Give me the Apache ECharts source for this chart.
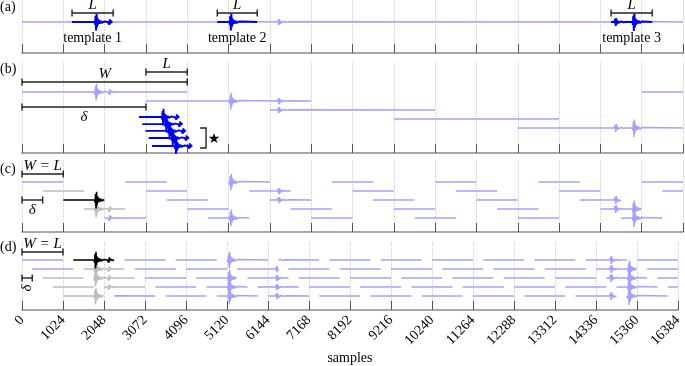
<!DOCTYPE html>
<html>
<head>
<meta charset="utf-8">
<script src="https://cdn.jsdelivr.net/npm/echarts@6/dist/echarts.min.js"></script>
<style>
  html, body { margin: 0; padding: 0; background: #fff; }
  #main { width: 685px; height: 366px; }
</style>
</head>
<body>
<div id="main"></div>
<script>
const SERIF = '"Liberation Serif", "DejaVu Serif", serif';
const RECORD_END = 16384;

// events in the continuous record (sample position, relative amplitude)
const eventSamples = [1800, 2130, 5140, 6330, 14680, 15130];
const eventAmps = [0.95, 0.3, 0.95, 0.35, 0.45, 1.0];
// shape of one event (one value every waveletStep samples)
const wavelet = [0, 0.3, -0.7, 1.0, -0.95, 0.6, -0.42, 0.32, -0.27, 0.23, -0.2, 0.18, -0.16, 0.15,
  -0.13, 0.12, -0.1, 0.09, -0.08, 0.07, -0.06, 0.05, -0.04, 0.03, 0];
const waveletStep = 12;

// (a) templates
const templateStarts = [1240, 4840, 14600];
const templateEnds = [2260, 5830, 15620];
const templateNames = ['template 1', 'template 2', 'template 3'];

// (b) long windows W, step delta, and the shifted copies of template 1
const bStarts = [0, 3072, 6144, 9216, 12288, 15360];
const bWidth = 4096;
const starStarts = [2900, 2980, 3060, 3140, 3220];

// (c) W = L, delta = L/2
const cStarts = [0, 512, 1024, 1536, 2048, 2560, 3072, 3584, 4096, 4608, 5120, 5632, 6144, 6656,
  7168, 7680, 8192, 8704, 9216, 9728, 10240, 10752, 11264, 11776, 12288, 12800, 13312, 13824,
  14336, 14848, 15360, 15872];
const cWidth = 1024;
const cGray = [1, 3];
const cBlack = [2];

// (d) W = L, delta = L/4
const dStarts = [0, 256, 512, 768, 1024, 1280, 1536, 1792, 2048, 2304, 2560, 2816, 3072, 3328,
  3584, 3840, 4096, 4352, 4608, 4864, 5120, 5376, 5632, 5888, 6144, 6400, 6656, 6912, 7168, 7424,
  7680, 7936, 8192, 8448, 8704, 8960, 9216, 9472, 9728, 9984, 10240, 10496, 10752, 11008, 11264,
  11520, 11776, 12032, 12288, 12544, 12800, 13056, 13312, 13568, 13824, 14080, 14336, 14592,
  14848, 15104, 15360, 15616, 15872, 16128];
const dWidth = 1024;
const dGray = [2, 3, 4, 6, 7, 8];
const dBlack = [5];

const LIGHT = '#a3a3ff';
const GRAY = '#bdbdbd';
const DARK = '#0000f0';

// one trace = window [start, end] of the record drawn on a row
function trace(start, end, row, shift) {
  end = Math.min(end, RECORD_END);
  const pts = [[start, row]];
  eventSamples.forEach((ev, i) => {
    const p = ev + shift;
    wavelet.forEach((v, j) => {
      const x = p + j * waveletStep;
      if (x > start && x < end) pts.push([x, row + v * eventAmps[i]]);
    });
  });
  pts.push([end, row]);
  pts.push([end, '-']);
  return pts;
}

function windows(starts, width, pick) {
  let out = [];
  starts.forEach((s, k) => {
    if (pick(k)) out = out.concat(trace(s, s + width, k % 5, 0));
  });
  return out;
}

function lineSeries(i, data, color, width, z) {
  return {
    type: 'line', xAxisIndex: i, yAxisIndex: i, data: data,
    showSymbol: false, connectNulls: false, silent: true, z: z,
    lineStyle: { color: color, width: width }
  };
}

// brackets: [from, to, row] with a label above or below
const bracketsA = [[1240, 2260, -1.0], [4840, 5830, -1.0], [14600, 15620, -1.0]];
const bracketsB = [[0, 4096, -1.11], [3072, 4096, -2.22], [0, 3072, 1.67]];
const bracketsC = [[0, 1024, -0.89], [0, 512, 2.0]];
const bracketsD = [[0, 1024, -0.89], [0, 256, 2.0]];

function bracketSeries(i, data, labels, sides, rot) {
  return {
    type: 'custom', xAxisIndex: i, yAxisIndex: i, data: data, silent: true, z: 5,
    encode: { x: [0, 1], y: 2 },
    renderItem: function (params, api) {
      const a = api.coord([api.value(0), api.value(2)]);
      const b = api.coord([api.value(1), api.value(2)]);
      const st = { stroke: '#222', lineWidth: 1.4 };
      const cap = 3.5;
      const side = sides[params.dataIndex];
      const r = rot ? rot[params.dataIndex] : 0;
      return {
        type: 'group',
        children: [
          { type: 'line', shape: { x1: a[0], y1: a[1], x2: b[0], y2: b[1] }, style: st },
          { type: 'line', shape: { x1: a[0], y1: a[1] - cap, x2: a[0], y2: a[1] + cap }, style: st },
          { type: 'line', shape: { x1: b[0], y1: b[1] - cap, x2: b[0], y2: b[1] + cap }, style: st },
          {
            type: 'text', x: (a[0] + b[0]) / 2, y: a[1] + (side === 'above' ? -8 : 10), rotation: r,
            style: {
              text: labels[params.dataIndex], fontFamily: SERIF, fontSize: 15, fontStyle: 'italic',
              fill: '#000', align: 'center', verticalAlign: 'middle',
              textAlign: 'center', textVerticalAlign: 'middle'
            }
          }
        ]
      };
    }
  };
}

function textSeries(i, data, labels, size) {
  return {
    type: 'custom', xAxisIndex: i, yAxisIndex: i, data: data, silent: true, z: 5,
    renderItem: function (params, api) {
      const p = api.coord([api.value(0), api.value(1)]);
      return {
        type: 'text', x: p[0], y: p[1],
        style: {
          text: labels[params.dataIndex], fontFamily: SERIF, fontSize: size, fill: '#000',
          align: 'center', verticalAlign: 'middle', textAlign: 'center', textVerticalAlign: 'middle'
        }
      };
    }
  };
}

// "]" next to the star copies: [fromSample, toSample, topRow, bottomRow]
const starBracket = [[4413, 4562, 4.0, 6.22]];

const grids = [
  { left: 22, right: 2, top: 0, height: 53 },
  { left: 22, right: 2, top: 62, height: 91 },
  { left: 22, right: 2, top: 160, height: 72 },
  { left: 22, right: 2, top: 242, height: 68 }
];
const yRanges = [[-2.444, 3.444], [-3.333, 6.778], [-2.444, 5.556], [-2.0, 5.556]];

function xAxisFor(i, labels) {
  return {
    type: 'value', gridIndex: i, min: 0, max: RECORD_END, interval: 1024,
    axisLine: { show: true, onZero: false, lineStyle: { color: '#8a8a8a', width: 1.5 } },
    axisTick: { show: true, inside: true, length: 9, lineStyle: { color: '#555', width: 1 } },
    splitLine: { show: true, lineStyle: { type: 'dotted', color: '#cfcfcf', width: 1 } },
    axisLabel: {
      show: labels, rotate: 45, fontFamily: SERIF, fontSize: 14, color: '#000', margin: 8,
      showMinLabel: true, showMaxLabel: true, hideOverlap: false,
      formatter: v => String(v)
    },
    name: labels ? 'samples' : '', nameLocation: 'middle', nameGap: 41,
    nameTextStyle: { fontFamily: SERIF, fontSize: 14, color: '#000' }
  };
}

const starRows = [2.78, 3.56, 4.33, 5.11, 6.0];
let starData = [];
starStarts.forEach((s, k) => {
  starData = starData.concat(trace(s, s + (templateEnds[0] - templateStarts[0]), starRows[k], s - templateStarts[0]));
});

let templData = [];
templateStarts.forEach((s, k) => { templData = templData.concat(trace(s, templateEnds[k], 0, 0)); });

const series = [
  // (a)
  lineSeries(0, trace(0, RECORD_END, 0, 0), LIGHT, 1.5, 2),
  lineSeries(0, templData, DARK, 2, 3),
  bracketSeries(0, bracketsA, ['L', 'L', 'L'], ['above', 'above', 'above']),
  textSeries(0, templateStarts.map((s, k) => [(s + templateEnds[k]) / 2, 1.78]), templateNames, 14),
  // (b)
  lineSeries(1, windows(bStarts, bWidth, () => true), LIGHT, 1.5, 2),
  lineSeries(1, starData, DARK, 1.8, 3),
  bracketSeries(1, bracketsB, ['W', 'L', 'δ'], ['above', 'above', 'below']),
  {
    type: 'custom', xAxisIndex: 1, yAxisIndex: 1, data: starBracket, silent: true, z: 5,
    renderItem: function (params, api) {
      const a = api.coord([api.value(0), api.value(2)]);
      const b = api.coord([api.value(1), api.value(3)]);
      return {
        type: 'group',
        children: [
          { type: 'polyline', shape: { points: [[a[0], a[1]], [b[0], a[1]], [b[0], b[1]], [a[0], b[1]]] },
            style: { stroke: '#222', lineWidth: 1.4, fill: null } },
          { type: 'text', x: b[0] + 8, y: (a[1] + b[1]) / 2 + 1,
            style: { text: '★', fontFamily: '"DejaVu Sans", sans-serif', fontSize: 14, fill: '#000',
              align: 'center', verticalAlign: 'middle', textAlign: 'center', textVerticalAlign: 'middle' } }
        ]
      };
    }
  },
  // (c)
  lineSeries(2, windows(cStarts, cWidth, k => cGray.indexOf(k) < 0 && cBlack.indexOf(k) < 0), LIGHT, 1.5, 2),
  lineSeries(2, windows(cStarts, cWidth, k => cGray.indexOf(k) >= 0), GRAY, 1.5, 3),
  lineSeries(2, windows(cStarts, cWidth, k => cBlack.indexOf(k) >= 0), '#000', 1.6, 4),
  bracketSeries(2, bracketsC, ['W = L', 'δ'], ['above', 'below']),
  // (d)
  lineSeries(3, windows(dStarts, dWidth, k => dGray.indexOf(k) < 0 && dBlack.indexOf(k) < 0), LIGHT, 1.5, 2),
  lineSeries(3, windows(dStarts, dWidth, k => dGray.indexOf(k) >= 0), GRAY, 1.5, 3),
  lineSeries(3, windows(dStarts, dWidth, k => dBlack.indexOf(k) >= 0), '#000', 1.6, 4),
  bracketSeries(3, bracketsD, ['W = L', 'δ'], ['above', 'below'], [0, Math.PI / 2])
];

const panelLabels = ['(a)', '(b)', '(c)', '(d)'];
const panelLabelTops = [0, 62, 162, 240];

const chart = echarts.init(document.getElementById('main'), null, { renderer: 'canvas' });
chart.setOption({
  animation: false,
  backgroundColor: '#fff',
  grid: grids,
  xAxis: grids.map((g, i) => xAxisFor(i, i === 3)),
  yAxis: yRanges.map((r, i) => ({ type: 'value', gridIndex: i, inverse: true, min: r[0], max: r[1], show: false })),
  graphic: panelLabels.map((t, i) => ({
    type: 'text', left: 0, top: panelLabelTops[i],
    style: { text: t, fontFamily: SERIF, fontSize: 14, fill: '#000' }
  })),
  series: series
});
</script>
</body>
</html>
